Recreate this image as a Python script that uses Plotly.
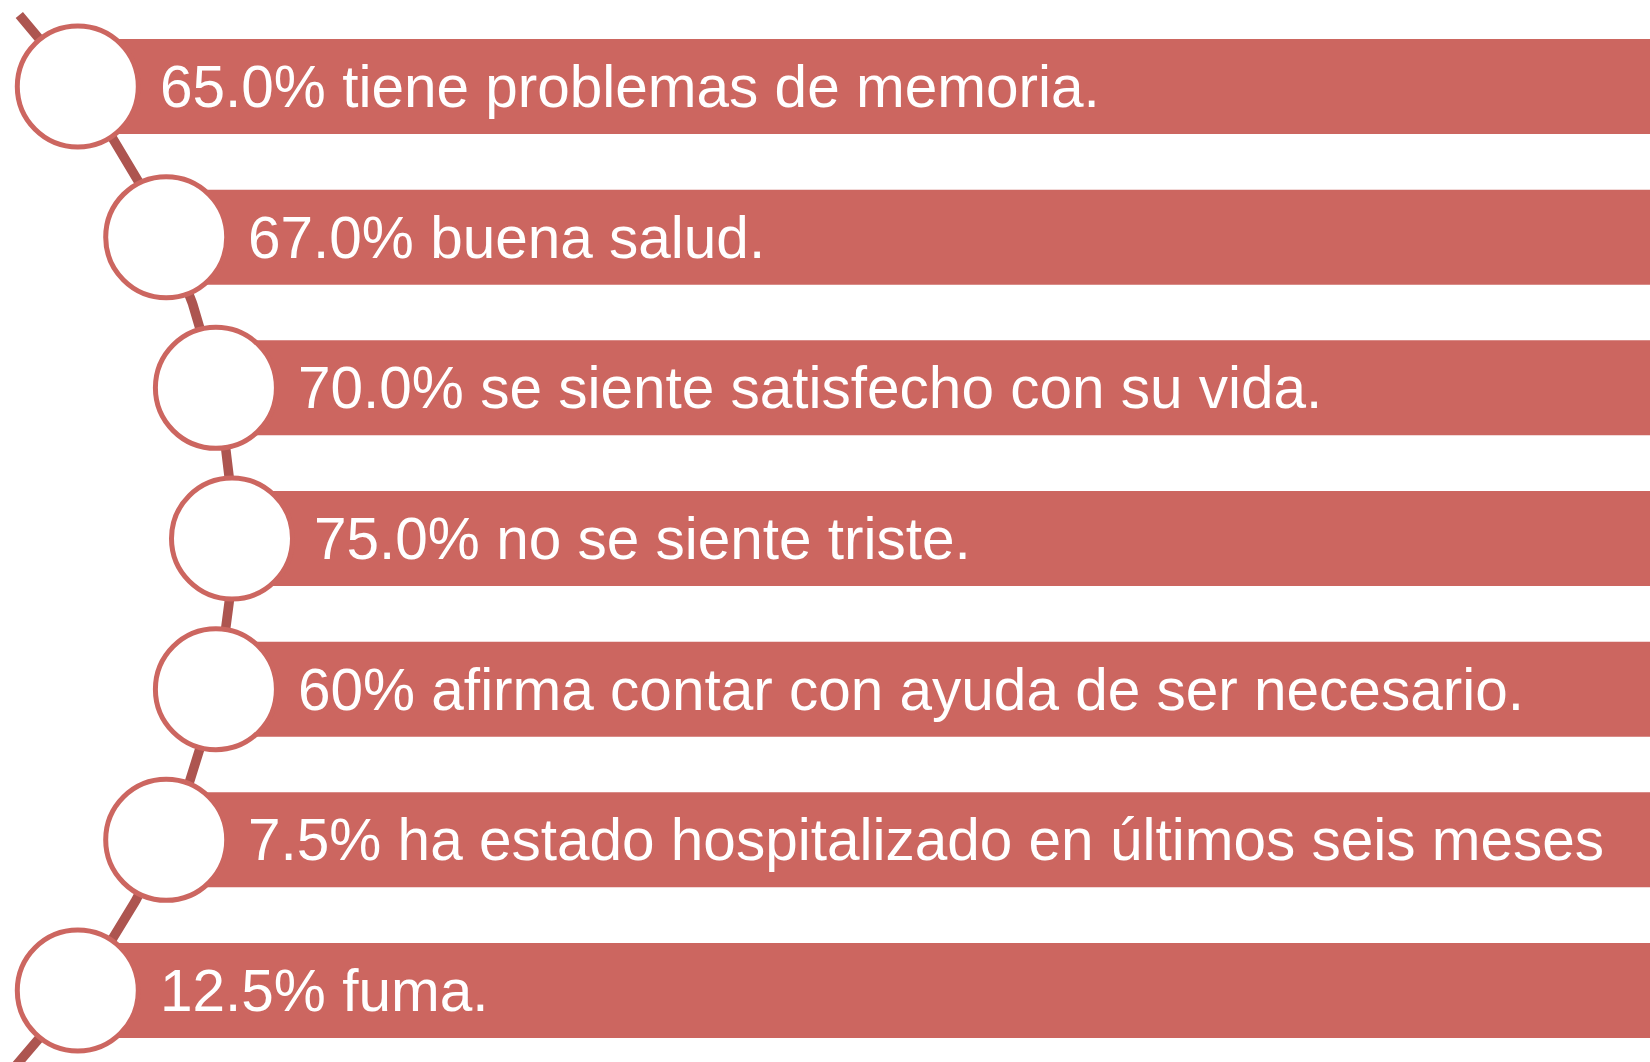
import numpy as np
import plotly.graph_objects as go

# ---- data ----
labels = [
    "65.0% tiene problemas de memoria.",
    "67.0% buena salud.",
    "70.0% se siente satisfecho con su vida.",
    "75.0% no se siente triste.",
    "60% afirma contar con ayuda de ser necesario.",
    "7.5% ha estado hospitalizado en últimos seis meses",
    "12.5% fuma.",
]

# ---- layout geometry (pixels) ----
W, H = 1650, 1062
ROW0, ROW_STEP = 86.5, 150.67
BAR_H = 95
CIRCLE_R = 60.5
ARC_A, ARC_B, ARC_CY = 1140.0, 900.0, 538.5
ARC_CX = 232.0 - ARC_A

BAR_COLOR = "#CC6660"
ARC_COLOR = "#AD5550"

def arc_x(y):
    dy = np.asarray(y, dtype=float) - ARC_CY
    return ARC_CX + ARC_A * np.sqrt(np.clip(1 - (dy / ARC_B) ** 2, 0, None))

n = len(labels)
ys = np.array([ROW0 + ROW_STEP * i for i in range(n)])
xs = arc_x(ys)

fig = go.Figure()

# arc
ay = np.linspace(15, 1075, 400)
fig.add_trace(go.Scatter(x=arc_x(ay), y=ay, mode="lines",
                         line=dict(color=ARC_COLOR, width=9.5),
                         hoverinfo="skip", showlegend=False))

# bars
fig.add_trace(go.Bar(y=ys, x=W + 10 - xs, base=xs, orientation="h",
                     width=BAR_H, marker=dict(color=BAR_COLOR, line=dict(width=0)),
                     hoverinfo="skip", showlegend=False))

# circles
for x, y in zip(xs, ys):
    fig.add_shape(type="circle", xref="x", yref="y",
                  x0=x - CIRCLE_R, x1=x + CIRCLE_R,
                  y0=y - CIRCLE_R, y1=y + CIRCLE_R,
                  fillcolor="white", line=dict(color=BAR_COLOR, width=5),
                  layer="above")

for x, y, t in zip(xs, ys, labels):
    fig.add_annotation(x=x + 80, y=y, text=t, showarrow=False,
                       xanchor="left", yanchor="middle",
                       font=dict(family="Liberation Sans, Arial, sans-serif",
                                 size=58.5, color="white"))

fig.update_layout(
    width=W, height=H,
    margin=dict(l=0, r=0, t=0, b=0),
    paper_bgcolor="white", plot_bgcolor="white",
    xaxis=dict(range=[0, W], visible=False, fixedrange=True),
    yaxis=dict(range=[H, 0], visible=False, fixedrange=True),
    barmode="overlay",
    showlegend=False,
)

fig.write_html("out.html", config={"displayModeBar": False},
               post_script="document.body.style.margin='0';document.body.style.overflow='hidden';")
